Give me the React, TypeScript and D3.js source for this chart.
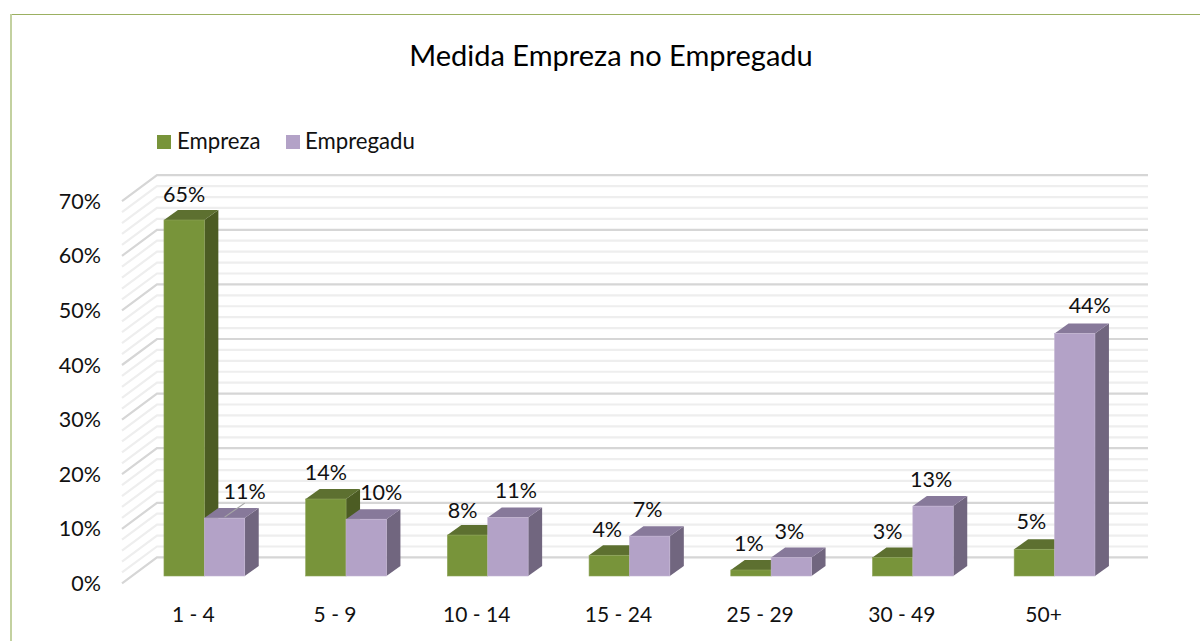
import React from "react";
import * as d3 from "d3";

const categories = ["1 - 4", "5 - 9", "10 - 14", "15 - 24", "25 - 29", "30 - 49", "50+"];
const empreza = [65.2, 14.1, 7.5, 3.8, 1.1, 3.4, 4.9];
const empregadu = [10.6, 10.4, 10.7, 7.3, 3.4, 12.8, 44.4];
const seriesNames = ["Empreza", "Empregadu"];
const majorTicks = [0, 10, 20, 30, 40, 50, 60, 70];
const allTicks = d3.range(0, 71, 2);

const W = 1200, H = 641;
const FONT = "Lato, 'Open Sans', sans-serif";
const TEXT = "#111";

// layout
const baseY = 576;
const pxPer10 = 54.6;
const wall = { left: 157, right: 1148, dx: 35, dy: 26 };
const barDepth = { dx: 14, dy: 10 };
const y = d3.scaleLinear().domain([0, 70]).range([baseY, baseY - 7 * pxPer10]);
const step = 141.7;
const x0 = 133.5;
const x = d3.scaleBand<string>().domain(categories).range([x0, x0 + 7 * step]).paddingInner(0.43).paddingOuter(0.215);
const barW = x.bandwidth() / 2;

const colors = [
  { front: "#78943a", top: "#5d7030", side: "#4c5c23", edge: "#8ea35a" },
  { front: "#b3a2c7", top: "#87799a", side: "#71667f", edge: "#c3b5d3" },
];

// hand placement of data labels relative to bar centre, as in the original
const nudgeX = [
  [0, 20], [0, 15], [-5, 8], [-2, -2], [-2, -2], [-5, -2], [-3, 15],
];
const nudgeYEmpreza = [-25, -26, -24, -25, -26, -25, -27];
const nudgeYEmpregadu = [-26, -26, -27, -26, -25, -26, -28];

function Bar({ left, value, c }: { left: number; value: number; c: typeof colors[0] }) {
  const top = y(value);
  const r = left + barW;
  const { dx, dy } = barDepth;
  return (
    <g>
      <polygon points={`${r},${top} ${r + dx},${top - dy} ${r + dx},${baseY - dy} ${r},${baseY}`} fill={c.side} />
      <polygon points={`${left},${top} ${left + dx},${top - dy} ${r + dx},${top - dy} ${r},${top}`} fill={c.top} />
      <rect x={left} y={top} width={barW} height={baseY - top} fill={c.front} stroke={c.edge} strokeWidth={0.6} />
    </g>
  );
}

export default function App() {
  const backY = (v: number) => y(v) - 18.6;
  const fmt = (v: number) => `${Math.round(v)}%`;
  return (
    <svg width={W} height={H} viewBox={`0 0 ${W} ${H}`} style={{ position: "absolute", left: 0, top: 0, background: "#fff" }} fontFamily={FONT}>
      <line x1={10} y1={14.5} x2={W} y2={14.5} stroke="#9bb061" strokeWidth={1.2} />
      <line x1={11} y1={14} x2={11} y2={H} stroke="#c3d1a0" strokeWidth={2} />

      <text x={611} y={66} textAnchor="middle" fontSize={29} fill="#000">Medida Empreza no Empregadu</text>

      <g fontSize={22.2} fill={TEXT}>
        <rect x={157} y={135} width={14} height={14} fill={colors[0].front} />
        <text x={177} y={149}>{seriesNames[0]}</text>
        <rect x={286} y={135} width={14} height={14} fill={colors[1].front} />
        <text x={305} y={149}>{seriesNames[1]}</text>
      </g>

      {allTicks.map((t) => {
        const major = t % 10 === 0;
        const by = backY(t);
        return (
          <g key={t} stroke={major ? "#d6d6d6" : "#eeeeee"} strokeWidth={2.2} fill="none">
            <polyline points={`${wall.left - wall.dx},${by + wall.dy} ${wall.left},${by} ${wall.right},${by}`} />
          </g>
        );
      })}

      {majorTicks.map((t) => (
        <text key={t} x={101} y={y(t) + 8 + 7} textAnchor="end" fontSize={21.5} fill={TEXT}>{`${t}%`}</text>
      ))}

      {categories.map((cat, i) => {
        const left = x(cat)!;
        return (
          <g key={cat}>
            <Bar left={left} value={empreza[i]} c={colors[0]} />
            <Bar left={left + barW} value={empregadu[i]} c={colors[1]} />
            <text x={left + barW - 11} y={622} textAnchor="middle" fontSize={21} fill={TEXT}>{cat}</text>
          </g>
        );
      })}

      <line
        x1={x(categories[0])! + barW * 1.5}
        y1={y(empregadu[0]) - 1}
        x2={x(categories[0])! + barW * 2}
        y2={y(empregadu[0]) - 15}
        stroke="#a6a6a6"
        strokeWidth={1.2}
      />

      {categories.map((cat, i) => {
        const left = x(cat)!;
        return (
          <g key={cat} fontSize={21.5} fill={TEXT} textAnchor="middle">
            <text x={left + barW / 2 + nudgeX[i][0]} y={y(empreza[i]) + nudgeYEmpreza[i] + 7}>{fmt(empreza[i])}</text>
            <text x={left + barW * 1.5 + nudgeX[i][1]} y={y(empregadu[i]) + nudgeYEmpregadu[i] + 7}>{fmt(empregadu[i])}</text>
          </g>
        );
      })}
    </svg>
  );
}
